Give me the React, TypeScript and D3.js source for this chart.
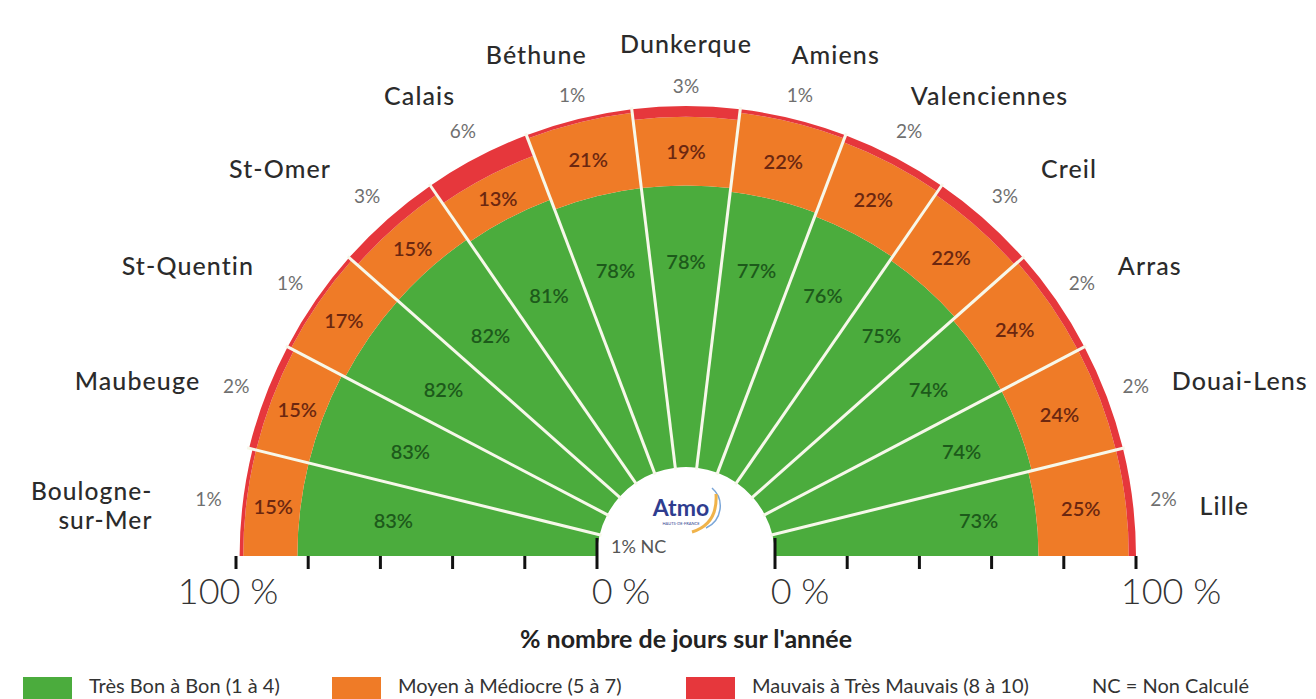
import * as d3 from "d3"

// Qualité de l'air : répartition des jours par indice (en %)
const cities = [
  "Boulogne-\nsur-Mer",
  "Maubeuge",
  "St-Quentin",
  "St-Omer",
  "Calais",
  "Béthune",
  "Dunkerque",
  "Amiens",
  "Valenciennes",
  "Creil",
  "Arras",
  "Douai-Lens",
  "Lille",
]
const tresBon = [83, 83, 82, 82, 81, 78, 78, 77, 76, 75, 74, 74, 73]
const moyen = [15, 15, 17, 15, 13, 21, 19, 22, 22, 22, 24, 24, 25]
const mauvais = [1, 2, 1, 3, 6, 1, 3, 1, 2, 3, 2, 2, 2]
const nonCalcule = [1, 0, 0, 0, 0, 0, 0, 0, 0, 0, 0, 0, 0]
const axisTicks = [0, 20, 40, 60, 80, 100]

const legendItems = [
  { label: "Très Bon à Bon (1 à 4)", color: "#4bac3d" },
  { label: "Moyen à Médiocre (5 à 7)", color: "#ef7b27" },
  { label: "Mauvais à Très Mauvais (8 à 10)", color: "#e6373c" },
]
const legendX = [23, 332, 686]

const W = 1316
const H = 699
const cx = 686
const cy = 556
const FONT = "Lato, 'Open Sans', sans-serif"

export default function App() {
  const r = d3.scaleLinear().domain([0, 100]).range([89, 450])
  const n = cities.length
  const angle = d3
    .scaleBand<number>()
    .domain(d3.range(n))
    .range([-Math.PI / 2, Math.PI / 2])
    .padding(0)
  const step = angle.bandwidth()

  const arc = d3.arc<{ a0: number; a1: number; r0: number; r1: number }>()
    .startAngle((d) => d.a0)
    .endAngle((d) => d.a1)
    .innerRadius((d) => d.r0)
    .outerRadius((d) => d.r1)

  const polar = (a: number, rad: number): [number, number] => [
    cx + rad * Math.sin(a),
    cy - rad * Math.cos(a),
  ]

  const colors = legendItems.map((l) => l.color)

  const wedges = cities.map((name, i) => {
    const a0 = angle(i)!
    const a1 = a0 + step
    const mid = a0 + step / 2
    const g = tresBon[i]
    const o = moyen[i]
    const m = mauvais[i]
    const bands = [
      { from: 0, to: g, color: colors[0] },
      { from: g, to: g + o, color: colors[1] },
      { from: g + o, to: g + o + m, color: colors[2] },
    ]
    return { name, i, a0, a1, mid, g, o, m, bands }
  })

  // separators between wedges
  const seps = d3.range(1, n).map((k) => angle(k)!)

  return (
    <svg
      width={W}
      height={H}
      style={{ position: "absolute", left: 0, top: 0, background: "#fff" }}
      fontFamily={FONT}
    >
      {/* stacked wedges */}
      {wedges.map((w) => (
        <g key={w.i}>
          {w.bands.map((b, j) => (
            <path
              key={j}
              d={arc({ a0: w.a0, a1: w.a1, r0: r(b.from), r1: r(b.to) })!}
              transform={`translate(${cx},${cy})`}
              fill={b.color}
            />
          ))}
        </g>
      ))}

      {/* white separators */}
      {seps.map((a, k) => {
        const [x1, y1] = polar(a, r(0) - 2)
        const [x2, y2] = polar(a, r(100) + 2)
        return (
          <line key={k} x1={x1} y1={y1} x2={x2} y2={y2} stroke="#f7f8ea" strokeWidth={3} />
        )
      })}

      {/* labels in bars + outside */}
      {wedges.map((w) => {
        const s = Math.sin(w.mid)
        const c = Math.cos(w.mid)
        const abs = Math.abs(s)
        const lines = w.name.split("\n")
        const [gx, gy] = polar(w.mid, r(57))
        const [ox, oy] = polar(w.mid, r(w.g + w.o / 2))
        const [px, py] = polar(w.mid, 481 - 10 * Math.pow(c, 20))
        let anchor = "middle"
        let nx = px + 150 * s
        if (abs >= 0.6) {
          anchor = s < 0 ? "end" : "start"
          nx = px + Math.sign(s) * (36 + (lines.length - 1) * 20)
        } else if (abs >= 0.3) {
          anchor = s < 0 ? "end" : "start"
          nx = px + 10 * s - 3
        }
        const ny = py - 42 * c + 14 * (1 - c)
        const lh = 29
        return (
          <g key={w.i}>
            <text x={gx} y={gy} textAnchor="middle" dominantBaseline="central"
              fontSize={20} fontWeight={600} fill="#1d5a1b">
              {w.g}%
            </text>
            <text x={ox} y={oy} textAnchor="middle" dominantBaseline="central"
              fontSize={20} fontWeight={600} fill="#6b2710">
              {w.o}%
            </text>
            <text x={px} y={py} textAnchor="middle" dominantBaseline="central"
              fontSize={19} fill="#6f6f6f">
              {w.m}%
            </text>
            {lines.map((l, k) => (
              <text key={k} x={nx} y={ny + (k - (lines.length - 1) / 2) * lh}
                textAnchor={anchor} dominantBaseline="central"
                fontSize={lines.length > 1 ? 24.5 : 25} fontWeight={500} fill="#2b2b2b"
                letterSpacing={1.1}>
                {l}
              </text>
            ))}
          </g>
        )
      })}

      {/* NC label */}
      {nonCalcule.map((v, i) =>
        v > 0 ? (
          <text key={i} x={cx - r(0) + 14} y={cy - 10} fontSize={18} fill="#555"
            dominantBaseline="central">
            {v}% NC
          </text>
        ) : null
      )}

      {/* Atmo logo */}
      <g>
        <text x={cx - 5} y={cy - 40} textAnchor="middle" fontSize={23} fontWeight={700}
          fill="#2f3d8f">
          Atmo
        </text>
        <text x={cx - 5} y={cy - 31} textAnchor="middle" fontSize={4} fill="#2f3d8f">
          HAUTS-DE-FRANCE
        </text>
        <path d={`M ${cx + 20} ${cy - 28} A 24 24 0 0 0 ${cx + 26} ${cy - 68}`}
          fill="none" stroke="#7aa6d8" strokeWidth={1.5} />
        <path d={`M ${cx + 6} ${cy - 24} Q ${cx + 32} ${cy - 32} ${cx + 30} ${cy - 62}`}
          fill="none" stroke="#f0b34a" strokeWidth={3} />
      </g>

      {/* axis ticks */}
      {[-1, 1].map((side) =>
        axisTicks.map((t) => {
          const x = cx + side * r(t)
          return (
            <line key={`${side}-${t}`} x1={x} x2={x} y1={t === 0 ? cy - 18 : cy}
              y2={cy + 13} stroke="#111" strokeWidth={3} />
          )
        })
      )}
      {[-1, 1].map((side) =>
        [0, 100].map((t) => {
          const dx = side === -1 ? (t === 100 ? -8 : 24) : t === 100 ? 35 : 25
          const x = cx + side * r(t) + dx
          return (
            <text key={`l${side}-${t}`} x={x} y={cy + 48} textAnchor="middle"
              fontSize={36} fontWeight={300} fill="#333">
              {t} %
            </text>
          )
        })
      )}
      <text x={cx} y={cy + 92} textAnchor="middle" fontSize={25} fontWeight={700} fill="#222">
        % nombre de jours sur l'année
      </text>

      {/* legend */}
      {legendItems.map((l, i) => (
        <g key={i} transform={`translate(${legendX[i]},677)`}>
          <rect width={49} height={24} fill={l.color} />
          <text x={66} y={8} dominantBaseline="central" fontSize={20} fill="#333">
            {l.label}
          </text>
        </g>
      ))}
      <text x={1092} y={685} dominantBaseline="central" fontSize={20} fill="#333">
        NC = Non Calculé
      </text>
    </svg>
  )
}
